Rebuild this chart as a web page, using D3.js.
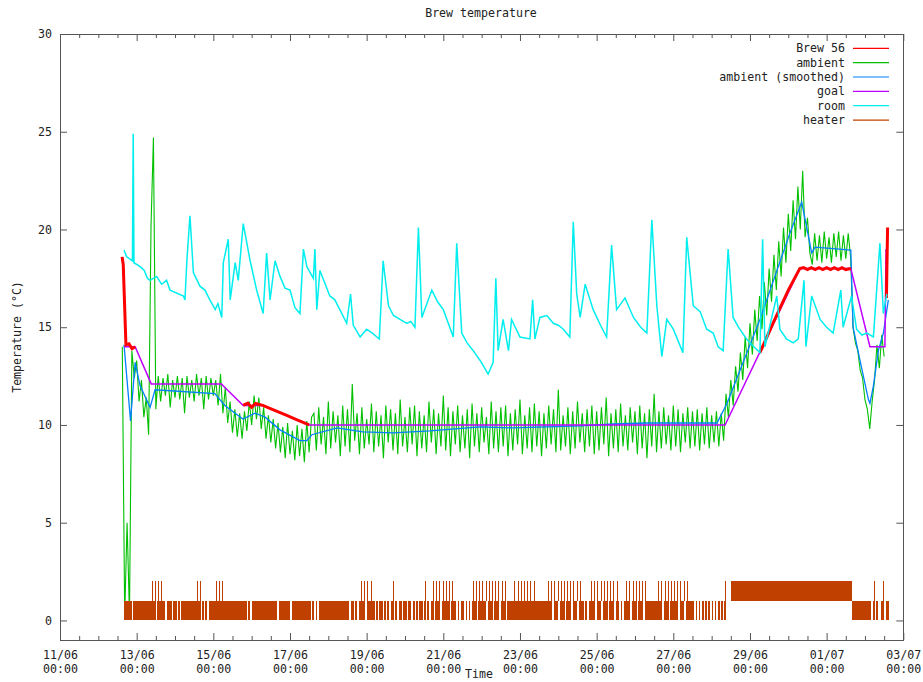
<!DOCTYPE html>
<html>
<head>
<meta charset="utf-8">
<script src="https://cdn.jsdelivr.net/npm/d3@7"></script>
<style>
body { margin:0; background:#fff; }
text { font-family: "DejaVu Sans Mono", monospace; font-size: 11.6px; fill: #222; }
</style>
</head>
<body>
<svg width="923" height="682"></svg>
<script>
// time axis: 11/06 00:00 .. 03/07 00:00, values below are in days since 11/06 00:00
const START = new Date(2013, 5, 11);
const END = new Date(2013, 6, 3);
const dayTicks = [0, 2, 4, 6, 8, 10, 12, 14, 16, 18, 20, 22];
const yTicks = [0, 5, 10, 15, 20, 25, 30];

const seriesNames = ["Brew 56", "ambient", "ambient (smoothed)", "goal", "room", "heater"];
const colors = ["#ff0000", "#00c000", "#0080ff", "#c000ff", "#00eeee", "#c04000"];

// Brew 56 (null = no reading)
const brewT = [1.62, 1.65, 1.72, 1.8, 1.88, 1.96, null,
  4.78, 4.9, 5.0, 5.1, 5.29, 5.6, 5.9, 6.2, 6.5, null,
  18.26, 18.6, 19.0, 19.3, 19.4, 19.5, 19.6, 19.7, 19.8, 19.9, 20.0, 20.1, 20.2, 20.3, 20.4, 20.5, 20.63, null,
  21.56, 21.59];
const brew = [18.6, 18.2, 14.1, 14.15, 13.9, 14.0, null,
  11.0, 11.12, 10.9, 11.1, 11.0, 10.75, 10.5, 10.25, 10.0, null,
  13.7, 15.2, 16.9, 18.0, 18.05, 17.95, 18.05, 17.95, 18.05, 17.95, 18.05, 17.95, 18.05, 17.95, 18.05, 17.95, 18.0, null,
  16.5, 20.1];

// goal
const goalT = [1.67, 1.96, 2.38, 4.21, 4.78, 5.29, 6.5, 17.35, 19.3, 20.63, 21.13, 21.52, 21.55];
const goal = [14.0, 14.0, 12.1, 12.1, 11.0, 11.0, 10.0, 10.0, 18.0, 18.0, 14.0, 14.0, 19.0];

// ambient, one reading every 1.5 h from 12/06 15:00
const ambientStart = 1.625;
const ambientStep = 1 / 16;
const ambient = [
  14, 0.2, 5, 0.3, 13.8,
  12.4, 13.3, 11.2, 12.3, 10.4, 11.4, 9.5, 20.2, 24.7, 10.8,
  12.5, 11.2, 12.4, 11.5, 12.6, 10.9, 12.3, 11.4, 12.5, 11.3, 12.4, 10.6, 12.5, 11.4, 12.3, 11.2, 12.6, 11.5, 12.4, 10.8, 12.5, 11.3, 12.4, 11.5, 12.3, 11.0, 12.6,
  10.6, 11.9, 10.1, 11.2, 9.6, 10.8, 9.4, 10.6, 9.3, 10.7, 9.7, 11.2, 10.0, 11.5, 10.3, 11.4, 9.8, 10.9, 9.3, 10.5, 9.1, 10.3, 8.8, 10.1,
  8.6, 9.9, 8.3, 10.1, 8.5, 9.7, 8.2, 10.0, 8.4, 9.8, 8.1, 10.2, 8.6, 10.4,
  10.6, 8.7, 10.9, 9.0, 10.4, 8.5, 11.2, 8.8, 10.7, 9.1, 10.5, 8.4, 11.0, 8.9, 10.8, 8.6, 12.1, 9.2, 10.6, 8.5,
  10.9, 8.8, 10.3, 9.0, 11.1, 8.6, 10.7, 8.9, 10.5, 8.3, 11.0, 9.1, 10.8, 8.7, 10.6, 8.5, 11.3, 8.9, 10.4, 8.6,
  10.9, 9.0, 11.0, 8.4, 10.7, 8.8, 10.5, 8.6, 11.2, 9.1, 10.8, 8.5, 10.6, 8.9, 11.5, 8.7, 10.9, 8.4, 10.7, 9.0,
  11.0, 8.6, 10.5, 8.8, 10.8, 8.3, 11.1, 8.9, 10.6, 8.6, 10.9, 9.1, 10.4, 8.5, 11.2, 8.8, 10.7, 8.6, 10.9, 8.9,
  11.0, 8.4, 10.6, 8.7, 10.8, 9.0, 11.3, 8.5, 10.5, 8.8, 10.9, 8.6, 11.1, 8.9, 10.7, 8.4, 10.6, 8.8, 11.0, 9.0,
  10.8, 8.6, 11.8, 8.7, 10.5, 8.9, 10.9, 8.5, 10.7, 8.8, 11.2, 9.1, 10.6, 8.6, 10.8, 8.9, 11.0, 8.5, 10.7, 8.7,
  10.9, 9.0, 11.4, 8.4, 10.6, 8.8, 10.8, 8.6, 11.1, 8.9, 10.5, 8.7, 10.9, 9.1, 10.7, 8.5, 11.0, 8.8, 10.6, 8.3,
  10.8, 8.9, 11.6, 8.6, 10.7, 8.8, 10.9, 9.0, 10.5, 8.7, 11.0, 8.9, 10.8, 8.6, 10.6, 9.1, 10.9, 8.8, 10.7, 8.9,
  10.8, 8.7, 10.6, 9.0, 10.9, 8.8, 10.5, 9.1, 10.7, 8.9, 10.6, 9.2,
  11.6, 10.4, 12.3, 11.0, 13.0, 11.7, 13.7, 12.3, 14.5, 12.9, 15.2, 13.6, 15.9, 14.3, 16.6, 14.9,
  17.3, 15.6, 18.0, 16.3, 18.7, 16.9, 19.4, 17.6, 20.1, 18.3, 20.8, 18.9, 21.5, 19.5, 22.2, 20.0,
  23.0, 19.6, 20.6, 18.8, 18.2, 19.8, 18.4, 19.7, 18.3, 19.9, 18.5, 19.6, 18.3, 19.8, 18.6, 19.9, 18.4, 19.7, 18.5, 19.8, 18.6,
  15.0, 14.2, 13.8, 12.8, 12.4, 11.3, 10.8, 9.8, 11.2, 12.3, 14.1, 12.9, 14.6, 13.5
];

// ambient (smoothed)
const smoothT = [1.67, 1.84, 1.96, 2.09, 2.35, 2.48, 4.04, 4.3, 4.77, 5.09, 5.35, 5.74, 6.26, 6.44, 6.57,
  7.23, 7.9, 8.69, 9.65, 10.96, 11.82, 13.57, 14.43, 15.31, 17.14, 17.4, 18.26, 19.04, 19.35, 19.61, 19.7,
  20.63, 20.69, 20.87, 21.09, 21.13, 21.22, 21.35, 21.48, 21.61];
const smooth = [14.1, 10.2, 13.2, 12.0, 10.9, 11.8, 11.6, 11.0, 10.3, 10.6, 10.4, 9.75, 9.2, 9.2, 9.5,
  9.85, 9.65, 9.6, 9.7, 9.9, 9.85, 9.95, 10.05, 10.1, 10.1, 11.1, 15.4, 19.8, 21.4, 18.8, 19.1,
  18.95, 15.0, 13.3, 11.3, 11.1, 12.0, 13.8, 14.7, 16.4];

// room
const roomT = [
  1.67, 1.74, 1.89, 1.91, 1.93, 2.09, 2.2, 2.28, 2.35, 2.52, 2.65, 2.78, 2.87, 3.22, 3.26, 3.31, 3.39, 3.48, 3.65, 3.78,
  3.91, 4.05, 4.12, 4.22, 4.26, 4.39, 4.44, 4.57, 4.65, 4.78, 4.96, 5.13, 5.3, 5.39, 5.48, 5.61, 5.74, 5.87, 6.0, 6.13,
  6.26, 6.35, 6.44, 6.61, 6.65, 6.7, 6.78, 7.04, 7.17, 7.3, 7.48, 7.58, 7.65, 7.83, 8.0, 8.15, 8.33, 8.43, 8.57, 8.7,
  8.87, 9.05, 9.15, 9.26, 9.35, 9.44, 9.7, 9.85, 10.0, 10.26, 10.35, 10.48, 10.62, 10.78, 10.96, 11.17, 11.3, 11.37, 11.43, 11.56,
  11.7, 11.78, 12.0, 12.26, 12.33, 12.39, 12.52, 12.7, 12.87, 13.0, 13.13, 13.3, 13.39, 13.48, 13.57, 13.7, 13.91, 14.1, 14.26, 14.39,
  14.52, 14.74, 14.96, 15.15, 15.31, 15.44, 15.57, 15.7, 15.83, 16.0, 16.25, 16.35, 16.52, 16.7, 16.87, 17.04, 17.17, 17.3, 17.43, 17.56,
  17.7, 17.91, 18.1, 18.26, 18.33, 18.39, 18.7, 18.78, 18.95, 19.13, 19.26, 19.41, 19.46, 19.61, 19.83, 20.0, 20.17, 20.37, 20.43, 20.65,
  20.78, 20.92, 21.05, 21.22, 21.39, 21.48, 21.57];
const room = [
  18.95, 18.6, 18.4, 24.9, 18.3, 18.1, 17.9, 17.5, 17.4, 17.6, 17.2, 17.4, 16.9, 16.6, 16.4, 18.4, 20.7, 17.8, 17.1, 16.9,
  16.4, 15.9, 16.2, 15.5, 18.3, 19.5, 16.4, 18.3, 17.4, 20.3, 18.4, 16.9, 15.7, 18.8, 16.4, 18.4, 17.6, 17.0, 16.9, 16.0,
  15.7, 19.0, 18.1, 17.5, 19.0, 15.9, 17.9, 16.6, 16.4, 15.9, 15.2, 16.7, 15.1, 14.5, 14.9, 14.7, 14.4, 18.4, 16.1, 15.6,
  15.4, 15.2, 15.3, 15.0, 20.1, 15.5, 16.9, 16.3, 15.9, 14.5, 19.3, 14.7, 14.2, 13.8, 13.3, 12.6, 13.2, 17.5, 13.8, 15.4,
  13.8, 15.4, 14.5, 14.4, 16.4, 14.4, 15.5, 15.6, 15.2, 15.1, 14.9, 14.5, 20.4, 16.7, 15.5, 17.2, 15.9, 15.1, 14.5, 19.2,
  15.9, 16.5, 15.5, 15.0, 14.7, 20.5, 16.1, 13.5, 15.4, 14.9, 13.7, 19.6, 16.1, 15.8, 14.9, 14.7, 14.0, 13.8, 19.0, 15.5,
  15.0, 14.4, 14.0, 13.7, 19.5, 14.0, 16.6, 14.9, 14.4, 14.2, 14.4, 17.4, 14.0, 16.6, 15.4, 15.0, 14.7, 16.9, 15.0, 16.6,
  14.9, 14.6, 14.7, 14.5, 19.3, 15.7, 16.7];

// heater, one code per hour from 12/06 16:00
// 0 = off, 1 = cycling 0-1, 2 = cycling 0-1 with a pulse to 2, 3 = cycling 1-2
const heaterStartHour = 40;
const heaterDays = [
  "11111011",
  "111111111212021211011101",
  "101011111111121201010111",
  "121212111111111111111010",
  "111111111111111101111111",
  "011111111111101010111111",
  "111111111111101101012120",
  "212110101101010120101101",
  "101101010110201012021202",
  "121202110101101010212021",
  "212021202120212011112121",
  "212121212111111112120212",
  "021202120212021101012120",
  "212021202120210101212021",
  "202120211111112120212021",
  "212021202111101010101010",
  "101010102000333333333333",
  "333333333333333333333333",
  "333333333333333333333333",
  "333333333333333311111111",
  "111102010012011"
];

const svg = d3.select("svg");
const L = 60, R = 903.3, T = 34, B = 640;
const at = d => new Date(START.getTime() + d * 864e5);

const x = d3.scaleTime().domain([START, END]).range([L, R]);
const y = d3.scaleLinear().domain([-1, 30]).range([B, T]);

svg.append("defs").append("clipPath").attr("id", "plot")
  .append("rect").attr("x", L).attr("y", T).attr("width", R - L).attr("height", B - T);

// axes (gnuplot style, ticks inward and mirrored)
const xMajor = dayTicks.map(at);
const xMinor = d3.range(0.5, 22, 0.5).filter(d => d % 2 !== 0).map(at);
const fmtDay = d3.timeFormat("%d/%m");
const fmtHour = d3.timeFormat("%H:%M");

function clean(g) {
  g.select(".domain").remove();
  g.selectAll(".tick line").attr("stroke", "#555");
}

const xAxis = svg.append("g").attr("transform", `translate(0,${B})`)
  .call(d3.axisBottom(x).tickValues(xMajor).tickSize(-7).tickPadding(10).tickFormat(""))
  .call(clean);
xAxis.selectAll(".tick text").each(function(d) {
  const t = d3.select(this).text(null).attr("dy", null).attr("y", 19);
  t.append("tspan").attr("x", 0).text(fmtDay(d));
  t.append("tspan").attr("x", 0).attr("dy", 14).text(fmtHour(d));
});
svg.append("g").attr("transform", `translate(0,${B})`)
  .call(d3.axisBottom(x).tickValues(xMinor).tickSize(-4).tickFormat(""))
  .call(clean);
svg.append("g").attr("transform", `translate(0,${T})`)
  .call(d3.axisTop(x).tickValues(xMajor).tickSize(-7).tickFormat(""))
  .call(clean);
svg.append("g").attr("transform", `translate(0,${T})`)
  .call(d3.axisTop(x).tickValues(xMinor).tickSize(-4).tickFormat(""))
  .call(clean);
svg.append("g").attr("transform", `translate(${L},0)`)
  .call(d3.axisLeft(y).tickValues(yTicks).tickSize(-7).tickPadding(8))
  .call(clean)
  .selectAll("text").style("font-family", "'DejaVu Sans Mono', monospace").style("font-size", "11.6px").attr("fill", "#222");
svg.append("g").attr("transform", `translate(${R},0)`)
  .call(d3.axisRight(y).tickValues(yTicks).tickSize(-7).tickFormat(""))
  .call(clean);
xAxis.selectAll("text").style("font-family", "'DejaVu Sans Mono', monospace").style("font-size", "11.6px").attr("fill", "#222");

const plot = svg.append("g").attr("clip-path", "url(#plot)");

const line = d3.line()
  .defined(p => p[1] != null)
  .x(p => x(at(p[0])))
  .y(p => y(p[1]));

function pairs(ts, vs) { return ts.map((t, i) => [t, vs[i]]); }

// ambient
plot.append("path")
  .attr("d", line(ambient.map((v, i) => [ambientStart + i * ambientStep, v])))
  .attr("fill", "none").attr("stroke", colors[1]).attr("stroke-width", 1.1);

// ambient (smoothed)
plot.append("path")
  .attr("d", line(pairs(smoothT, smooth)))
  .attr("fill", "none").attr("stroke", colors[2]).attr("stroke-width", 1.3);

// goal
plot.append("path")
  .attr("d", line(pairs(goalT, goal)))
  .attr("fill", "none").attr("stroke", colors[3]).attr("stroke-width", 1.5);

// Brew 56
plot.append("path")
  .attr("d", line(pairs(brewT, brew)))
  .attr("fill", "none").attr("stroke", colors[0]).attr("stroke-width", 3);

// room
plot.append("path")
  .attr("d", line(pairs(roomT, room)))
  .attr("fill", "none").attr("stroke", colors[4]).attr("stroke-width", 1.5);

// heater
const heater = heaterDays.join("").split("");
const hx = h => x(at(h / 24));
const hg = plot.append("g").attr("fill", colors[5]).attr("shape-rendering", "crispEdges");
heater.forEach((c, i) => {
  const h = heaterStartHour + i;
  const x0 = hx(h), x1 = hx(h + 1);
  if (c === "1" || c === "2") {
    hg.append("rect").attr("x", x0).attr("width", x1 - x0).attr("y", y(1)).attr("height", y(0) - y(1));
  }
  if (c === "2") {
    hg.append("rect").attr("x", (x0 + x1) / 2).attr("width", 1).attr("y", y(2)).attr("height", y(1) - y(2));
  }
  if (c === "3") {
    hg.append("rect").attr("x", x0).attr("width", x1 - x0).attr("y", y(2)).attr("height", y(1) - y(2));
  }
});

// frame
svg.append("rect").attr("x", L).attr("y", T).attr("width", R - L).attr("height", B - T)
  .attr("fill", "none").attr("stroke", "#555").attr("shape-rendering", "crispEdges");

// titles
svg.append("text").attr("x", 481).attr("y", 17).attr("text-anchor", "middle").text("Brew temperature");
svg.append("text").attr("x", 479).attr("y", 678).attr("text-anchor", "middle").text("Time");
svg.append("text").attr("transform", "translate(21,337) rotate(-90)").attr("text-anchor", "middle").text("Temperature (°C)");

// legend
const leg = svg.append("g");
seriesNames.forEach((name, i) => {
  const ly = 48.3 + i * 14.35;
  leg.append("text").attr("x", 845).attr("y", ly).attr("dy", "0.35em").attr("text-anchor", "end").text(name);
  leg.append("line").attr("x1", 853).attr("x2", 889).attr("y1", ly).attr("y2", ly)
    .attr("stroke", colors[i]).attr("stroke-width", 1.2);
});
</script>
</body>
</html>
